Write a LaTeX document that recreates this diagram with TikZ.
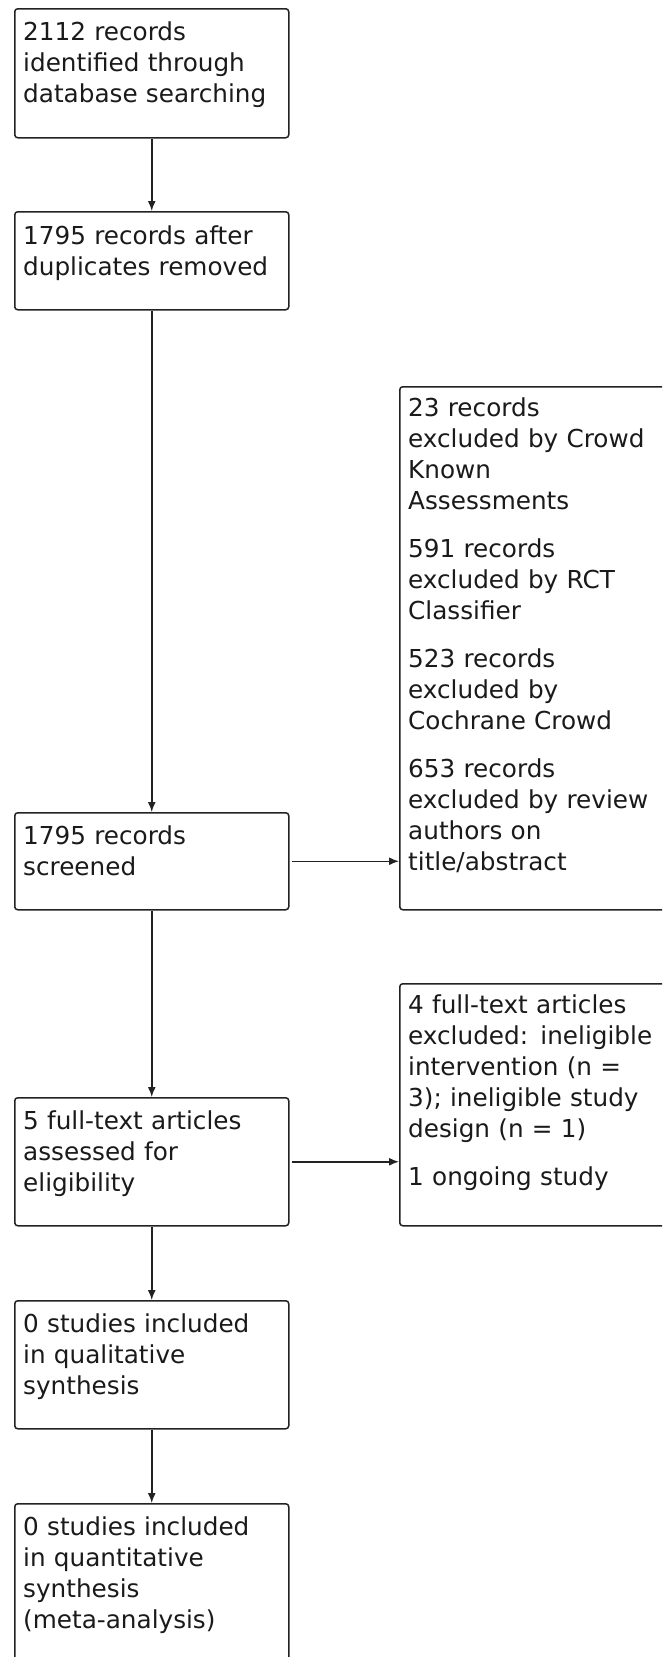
\documentclass[tikz,border=0pt]{standalone}
\usepackage{fontspec}
\setmainfont{DejaVu Sans}
\usetikzlibrary{arrows.meta,calc}
\definecolor{linec}{HTML}{222222}
\definecolor{textc}{HTML}{1A1A1A}
\tikzset{
  box/.style={draw=linec, line width=1.5pt, rounded corners=3pt, anchor=north west, inner sep=0pt, fill=white},
  txt/.style={anchor=base west, inner sep=0pt, text width=262pt, align=left, text=textc,
    font=\fontsize{24.7}{31}\selectfont},
  arr/.style={draw=linec, line width=1.5pt, -{Latex[length=10pt,width=8pt]}},
}
\begin{document}
\begin{tikzpicture}[x=1pt,y=-1pt]
\useasboundingbox (0,0) rectangle (662,1657);
\clip (0,0) rectangle (662,1657);
\fill[white] (0,0) rectangle (662,1657);
% left column boxes
\node[box, minimum width=274pt, minimum height=129pt] (b1) at (14,8) {};
\node[box, minimum width=274pt, minimum height=98pt]  (b2) at (14,211) {};
\node[box, minimum width=274pt, minimum height=97pt]  (b3) at (14,812) {};
\node[box, minimum width=274pt, minimum height=128pt] (b4) at (14,1097) {};
\node[box, minimum width=274pt, minimum height=128pt] (b5) at (14,1300) {};
\node[box, minimum width=274pt, minimum height=175pt] (b6) at (14,1503) {};
% right column boxes
\node[box, minimum width=300pt, minimum height=523pt] (ra) at (399,386) {};
\node[box, minimum width=300pt, minimum height=242pt] (rb) at (399,983) {};
% texts
\node[txt] (t1) at ($(b1.north west)+(9,32)$) {2112 records\\identified through\\database searching};
\node[txt] (t2) at ($(b2.north west)+(9,33)$) {1795 records after\\duplicates removed};
\node[txt] (t3) at ($(b3.north west)+(9,32)$) {1795 records\\screened};
\node[txt] (t4) at ($(b4.north west)+(9,32)$) {5 full-text articles\\assessed for\\eligibility};
\node[txt] (t5) at ($(b5.north west)+(9,32)$) {0 studies included\\in qualitative\\synthesis};
\node[txt] (t6) at ($(b6.north west)+(9,32)$) {0 studies included\\in quantitative\\synthesis\\(meta-analysis)};
\node[txt] (ta) at ($(ra.north west)+(9,30)$) {23 records\\excluded by Crowd\\Known\\Assessments\\[17pt]591 records\\excluded by RCT\\Classifier\\[17pt]523 records\\excluded by\\Cochrane Crowd\\[17pt]653 records\\excluded by review\\authors on\\title/abstract};
\node[txt] (tb) at ($(rb.north west)+(9,30)$) {4 full-text articles\\excluded: ineligible\\intervention (n =\\3); ineligible study\\design (n = 1)\\[17pt]1 ongoing study};
% connectors
\draw[arr] (b1.south) -- (b2.north);
\draw[arr] (b2.south) -- (b3.north);
\draw[arr] (b3.south) -- (b4.north);
\draw[arr] (b4.south) -- (b5.north);
\draw[arr] (b5.south) -- (b6.north);
\draw[arr] ($(b3.east)+(2,0)$) -- (b3.east -| ra.west);
\draw[arr] ($(b4.east)+(2,0)$) -- (b4.east -| rb.west);
\end{tikzpicture}
\end{document}
